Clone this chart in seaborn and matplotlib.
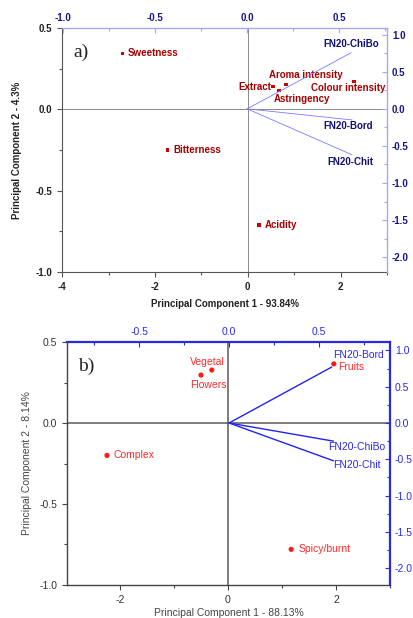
import pandas as pd
import seaborn as sns
import matplotlib.pyplot as plt
from matplotlib.ticker import MultipleLocator

# panel a) - attribute scores (PC1, PC2) and sample loadings (top/right axes)
a_attr = ["Sweetness", "Bitterness", "Acidity", "Extract", "Aroma intensity",
          "Astringency", "Colour intensity"]
a_pc1 = [-2.70, -1.73, 0.24, 0.54, 0.82, 0.67, 2.29]
a_pc2 = [0.344, -0.25, -0.71, 0.14, 0.154, 0.117, 0.172]
a_vec = ["FN20-ChiBo", "FN20-Bord", "FN20-Chit"]
a_vx = [0.565, 0.57, 0.57]
a_vy = [0.757, -0.15, -0.62]

# panel b)
b_attr = ["Vegetal", "Flowers", "Fruits", "Complex", "Spicy/burnt"]
b_pc1 = [-0.30, -0.50, 1.96, -2.24, 1.17]
b_pc2 = [0.327, 0.296, 0.365, -0.20, -0.78]
b_vec = ["FN20-Bord", "FN20-ChiBo", "FN20-Chit"]
b_vx = [0.57, 0.58, 0.58]
b_vy = [0.77, -0.25, -0.52]

sns.set_style("ticks")
plt.rcParams['font.family'] = ['Liberation Sans', 'DejaVu Sans']

fig = plt.figure(figsize=(4.14, 6.18), dpi=100)


def vec_frame(names, vx, vy):
    rows = []
    for n, x, y in zip(names, vx, vy):
        rows.append({"name": n, "x": 0.0, "y": 0.0})
        rows.append({"name": n, "x": x, "y": y})
    return pd.DataFrame(rows)


def panel(pos, attr, pc1, pc2, vec, vx, vy, xlim, ylim, x2lim, y2lim,
          pt_off, vec_off, st, xlab, ylab, tag):
    ax = fig.add_axes(pos)
    ax2 = fig.add_axes(pos)
    ax2.patch.set_alpha(0)

    # zero lines
    ax.axhline(0, color=st["zero"], lw=st["zlw"], zorder=1)
    ax.axvline(0, color=st["zero"], lw=st["zlw"], zorder=1)

    pts = pd.DataFrame({"attr": attr, "pc1": pc1, "pc2": pc2})
    sns.scatterplot(data=pts, x="pc1", y="pc2", color=st["red"], s=st["ms"],
                    marker=st["marker"], edgecolor="none", ax=ax, zorder=3)
    for (_, r), off in zip(pts.iterrows(), pt_off):
        ax.annotate(r["attr"], (r["pc1"], r["pc2"]), xytext=off[:2],
                    textcoords="offset points", ha=off[2], va="center",
                    color=st["redtxt"], fontsize=st["fs"], fontweight=st["fw"])

    vdf = vec_frame(vec, vx, vy)
    sns.lineplot(data=vdf, x="x", y="y", units="name", estimator=None,
                 sort=False, color=st["blue"], lw=st["vlw"], ax=ax2,
                 legend=False)
    for n, x, y, off in zip(vec, vx, vy, vec_off):
        ax2.annotate(n, (x, y), xytext=off[:2], textcoords="offset points",
                     ha=off[2], va="center", color=st["bluetxt"],
                     fontsize=st["fs"], fontweight=st["fw"])

    ax.set_xlim(*xlim)
    ax.set_ylim(*ylim)
    ax2.set_xlim(*x2lim)
    ax2.set_ylim(*y2lim)

    ax.xaxis.set_major_locator(MultipleLocator(2))
    ax.xaxis.set_minor_locator(MultipleLocator(1))
    ax.yaxis.set_major_locator(MultipleLocator(0.5))
    ax.yaxis.set_minor_locator(MultipleLocator(0.25))
    ax2.xaxis.set_major_locator(MultipleLocator(0.5))
    ax2.xaxis.set_minor_locator(MultipleLocator(0.25))
    ax2.yaxis.set_major_locator(MultipleLocator(0.5))
    ax2.yaxis.set_minor_locator(MultipleLocator(0.25))
    ax.xaxis.set_major_formatter(lambda v, p: f"{v:.0f}")
    ax.yaxis.set_major_formatter(lambda v, p: f"{v:.1f}")
    ax2.xaxis.set_major_formatter(lambda v, p: f"{v:.1f}")
    ax2.yaxis.set_major_formatter(lambda v, p: f"{v:.1f}")

    for s in ["top", "right"]:
        ax.spines[s].set_visible(False)
    for s in ["left", "bottom"]:
        ax2.spines[s].set_visible(False)
        ax.spines[s].set_color(st["axc"])
        ax.spines[s].set_linewidth(st["slw"])
    for s in ["top", "right"]:
        ax2.spines[s].set_visible(True)
        ax2.spines[s].set_color(st["blue2"])
        ax2.spines[s].set_linewidth(st["slw2"])

    ax2.xaxis.tick_top()
    ax2.yaxis.tick_right()
    ax.tick_params(which="both", colors=st["axc"], labelcolor=st["tickc"],
                   labelsize=st["ts"], direction="out", width=0.8)
    ax.tick_params(which="major", length=3.5)
    ax.tick_params(which="minor", length=2)
    ax2.tick_params(which="both", colors=st["blue2"], labelcolor=st["bluetick"],
                    labelsize=st["ts"], direction="in", width=0.8)
    ax2.tick_params(which="major", length=3.5)
    ax2.tick_params(which="minor", length=2)
    if st["fw"] == "bold":
        for lab in ax.get_xticklabels() + ax.get_yticklabels() + \
                ax2.get_xticklabels() + ax2.get_yticklabels():
            lab.set_fontweight("bold")

    ax2.set_xlabel("")
    ax2.set_ylabel("")
    ax.set_xlabel(xlab, fontsize=st["fs"], fontweight=st["fw"],
                  color=st["labc"], labelpad=st["xpad"])
    ax.set_ylabel(ylab, fontsize=st["fs"], fontweight=st["fw"],
                  color=st["labc"], labelpad=st["ypad"])
    ax.text(0.035, 0.88, tag, transform=ax.transAxes, family="Liberation Serif",
            fontsize=14, color="#222222")


style_a = dict(red="#cc0000", redtxt="#a80000", blue="#7a7aff", bluetxt="#10107a",
               blue2="#a8a8f0", bluetick="#14148c", zero="#8a8a8a", zlw=0.7,
               ms=6, marker="s", fs=7, fw="bold", vlw=0.6, axc="#555555",
               tickc="#222222", labc="#222222", slw=0.8, slw2=1.0, ts=7,
               xpad=5, ypad=10)
style_b = dict(red="#ff1a1a", redtxt="#ff2a2a", blue="#2323f0", bluetxt="#2a2ae8",
               blue2="#2a2ae0", bluetick="#2a2af0", zero="#5a5a5a", zlw=1.1,
               ms=14, marker="o", fs=7.5, fw="normal", vlw=1.0, axc="#444444",
               tickc="#333333", labc="#444444", slw=1.0, slw2=1.6, ts=7.5,
               xpad=2.5, ypad=5)

a_off = [(4, 0, "left"), (4, 0, "left"), (4, 0, "left"), (-1, 0, "right"),
         (-12, 7, "left"), (-4, -6, "left"), (-4, -5, "center")]
a_voff = [(0, 6, "center"), (-3, -4, "center"), (-1, -5, "center")]
b_off = [(-3, 6, "center"), (5, -7, "center"), (3, -2, "left"),
         (5, 0, "left"), (5, 0, "left")]
b_voff = [(19, 9, "center"), (17, -4, "center"), (17, -3, "center")]

panel([0.150, 0.5599, 0.785, 0.3948], a_attr, a_pc1, a_pc2, a_vec, a_vx, a_vy,
      (-4, 3.0), (-1.0, 0.5), (-1.005, 0.76), (-2.2, 1.09),
      a_off, a_voff, style_a,
      "Principal Component 1 - 93.84%", "Principal Component 2 - 4.3%", "a)")
panel([0.162, 0.0534, 0.780, 0.3932], b_attr, b_pc1, b_pc2, b_vec, b_vx, b_vy,
      (-2.98, 3.0), (-1.0, 0.5), (-0.9, 0.894), (-2.23, 1.115),
      b_off, b_voff, style_b,
      "Principal Component 1 - 88.13%", "Principal Component 2 - 8.14%", "b)")

fig.savefig("out.png", dpi=100)
